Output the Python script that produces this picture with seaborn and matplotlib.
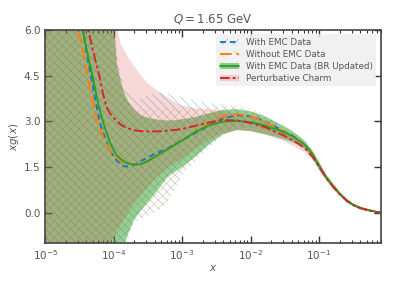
import numpy as np
import matplotlib
matplotlib.use("Agg")
import matplotlib.pyplot as plt
import seaborn as sns
from matplotlib.patches import Patch
from matplotlib.lines import Line2D

# log10(x) grid shared by all curves
log_x = [-5.0, -4.7, -4.55, -4.5, -4.45, -4.4, -4.35, -4.3, -4.25, -4.2, -4.15,
         -4.1, -4.05, -4.0, -3.95, -3.9, -3.85, -3.8, -3.7, -3.6, -3.5, -3.4,
         -3.3, -3.2, -3.1, -3.0, -2.8, -2.6, -2.4, -2.2, -2.0, -1.8,
         -1.6, -1.5, -1.4, -1.3, -1.2, -1.1, -1.0, -0.9, -0.8, -0.7, -0.6, -0.5, -0.4, -0.3, -0.2, -0.1]

# central values
emc_mid = [17, 10, 7.5, 6.7, 6.05, 5.3, 4.7, 4.1, 3.5, 2.95, 2.6,
           2.3, 2.05, 1.85, 1.7, 1.6, 1.53, 1.52, 1.57, 1.7, 1.82, 1.93,
           2.03, 2.13, 2.26, 2.39, 2.62, 2.88, 3.1, 3.2, 3.17, 3.02,
           2.78, 2.66, 2.54, 2.4, 2.22, 1.95, 1.55, 1.18, 0.89, 0.63, 0.41, 0.26, 0.16, 0.1, 0.05, 0.0]
noemc_mid = [15, 8.5, 6.3, 5.8, 5.3, 4.7, 4.1, 3.6, 3.05, 2.75, 2.48,
             2.25, 2.05, 1.9, 1.8, 1.72, 1.66, 1.62, 1.58, 1.61, 1.69, 1.83,
             1.96, 2.1, 2.24, 2.38, 2.67, 2.95, 3.18, 3.24, 3.18, 3.0,
             2.76, 2.65, 2.54, 2.4, 2.22, 1.95, 1.55, 1.18, 0.89, 0.63, 0.41, 0.26, 0.16, 0.1, 0.05, 0.0]
br_mid = [16, 9.5, 7.2, 6.6, 6.0, 5.4, 4.9, 4.4, 3.85, 3.35, 2.95,
          2.6, 2.3, 2.05, 1.88, 1.77, 1.69, 1.63, 1.58, 1.6, 1.7, 1.83,
          1.97, 2.1, 2.24, 2.38, 2.66, 2.88, 2.99, 3.02, 2.97, 2.87,
          2.72, 2.63, 2.53, 2.38, 2.22, 1.94, 1.55, 1.18, 0.89, 0.63, 0.41, 0.26, 0.16, 0.1, 0.05, 0.0]
pc_mid = [18, 11, 8.3, 7.6, 6.9, 6.35, 5.8, 5.3, 4.85, 4.4, 3.85,
          3.45, 3.25, 3.12, 3.01, 2.9, 2.83, 2.78, 2.71, 2.68, 2.67, 2.67,
          2.68, 2.7, 2.72, 2.75, 2.86, 2.97, 3.04, 3.03, 2.95, 2.82,
          2.62, 2.52, 2.4, 2.27, 2.1, 1.85, 1.52, 1.16, 0.88, 0.62, 0.41, 0.26, 0.16, 0.1, 0.05, 0.0]

# uncertainty band edges
emc_hi = [12, 12, 12, 12, 12, 12, 12, 12, 12, 12, 12,
          12, 12, 6.4, 5.3, 4.6, 4.2, 3.95, 3.72, 3.75, 3.86, 3.94,
          3.95, 3.92, 3.86, 3.8, 3.68, 3.6, 3.55, 3.47, 3.35, 3.16,
          2.9, 2.76, 2.62, 2.46, 2.26, 2.0, 1.62, 1.24, 0.93, 0.67, 0.44, 0.29, 0.18, 0.11, 0.06, 0.01]
emc_lo = [-5, -5, -5, -5, -5, -5, -5, -5, -5, -5, -5,
          -5, -5, -5, -5, -5, -1.4, -0.95, -0.32, -0.2, -0.1, 0.0,
          0.15, 0.4, 0.8, 1.25, 1.7, 2.15, 2.55, 2.75, 2.8, 2.72,
          2.55, 2.48, 2.4, 2.3, 2.14, 1.88, 1.48, 1.12, 0.83, 0.59, 0.37, 0.23, 0.13, 0.08, 0.03, -0.01]
noemc_hi = [12, 12, 12, 12, 12, 12, 12, 12, 12, 12, 12,
            12, 12, 6.2, 5.1, 4.4, 3.95, 3.65, 3.4, 3.35, 3.38, 3.42,
            3.43, 3.42, 3.39, 3.37, 3.38, 3.44, 3.52, 3.52, 3.42, 3.22,
            2.94, 2.78, 2.64, 2.47, 2.27, 2.0, 1.63, 1.24, 0.93, 0.67, 0.44, 0.29, 0.18, 0.11, 0.06, 0.01]
noemc_lo = [-5, -5, -5, -5, -5, -5, -5, -5, -5, -5, -5,
            -5, -5, -5, -5, -5, -1.2, -0.75, -0.25, -0.15, -0.05, 0.05,
            0.2, 0.45, 0.85, 1.3, 1.75, 2.2, 2.62, 2.82, 2.85, 2.75,
            2.57, 2.49, 2.41, 2.3, 2.15, 1.88, 1.49, 1.12, 0.83, 0.59, 0.37, 0.23, 0.13, 0.08, 0.03, -0.01]
br_hi = [12, 12, 12, 12, 12, 12, 12, 12, 12, 12, 12,
         12, 12, 6.3, 4.85, 4.35, 3.95, 3.7, 3.38, 3.2, 3.12, 3.07,
         3.04, 3.03, 3.04, 3.07, 3.15, 3.27, 3.38, 3.4, 3.33, 3.18,
         2.95, 2.83, 2.7, 2.54, 2.35, 2.06, 1.68, 1.27, 0.98, 0.7, 0.48, 0.31, 0.21, 0.13, 0.08, 0.03]
br_lo = [-5, -5, -5, -5, -5, -5, -5, -5, -5, -5, -5,
         -5, -5, -5, -5, -5, -1.1, -0.75, -0.22, 0.08, 0.36, 0.62,
         0.92, 1.2, 1.35, 1.5, 1.85, 2.25, 2.58, 2.72, 2.68, 2.58,
         2.47, 2.4, 2.33, 2.22, 2.08, 1.83, 1.42, 1.1, 0.8, 0.57, 0.35, 0.22, 0.12, 0.07, 0.03, -0.01]
pc_hi = [12, 12, 12, 12, 12, 12, 12, 12, 12, 12, 12,
         12, 12, 12, 6.1, 5.55, 5.35, 5.15, 4.8, 4.5, 4.25, 4.07,
         3.92, 3.77, 3.62, 3.52, 3.43, 3.4, 3.34, 3.26, 3.15, 3.0,
         2.78, 2.66, 2.52, 2.36, 2.17, 1.92, 1.6, 1.23, 0.93, 0.67, 0.44, 0.29, 0.18, 0.11, 0.06, 0.01]
pc_lo = [-5, -5, -5, -5, -5, -5, -5, -5, -5, -5, -5,
         -5, -1.0, -0.8, -0.6, -0.42, -0.22, -0.03, 0.3, 0.58, 0.85, 1.1,
         1.3, 1.48, 1.63, 1.78, 2.1, 2.4, 2.6, 2.7, 2.68, 2.58,
         2.42, 2.33, 2.22, 2.1, 1.95, 1.75, 1.42, 1.1, 0.8, 0.58, 0.36, 0.23, 0.13, 0.08, 0.03, -0.01]

labels = ['With EMC Data', 'Without EMC Data', 'With EMC Data (BR Updated)', 'Perturbative Charm']
blue, orange, green, red = sns.color_palette('tab10')[:4]

sns.set_theme(style='ticks')
plt.rcParams['font.family'] = ['DejaVu Sans']
plt.rcParams['hatch.linewidth'] = 0.45
text_grey = '#555555'

x = np.power(10.0, log_x)

fig = plt.figure(figsize=(3.93, 2.82), dpi=100)
ax = fig.add_axes([0.115, 0.137, 0.854, 0.757])

# hatched bands
ax.fill_between(x, emc_lo, emc_hi, facecolor='none', edgecolor=blue, hatch='\\\\\\\\',
                linewidth=0, alpha=0.45)
ax.fill_between(x, noemc_lo, noemc_hi, facecolor='none', edgecolor=orange, hatch='////',
                linewidth=0, alpha=0.45)
# filled bands
ax.fill_between(x, br_lo, br_hi, color=green, alpha=0.5, linewidth=0)
ax.fill_between(x, pc_lo, pc_hi, color=red, alpha=0.18, linewidth=0)

sns.lineplot(x=x, y=emc_mid, ax=ax, color=blue, linestyle=(0, (3, 2)), linewidth=1.4, sort=False)
sns.lineplot(x=x, y=noemc_mid, ax=ax, color=orange, linestyle=(0, (6, 2.5)), linewidth=1.4, sort=False)
sns.lineplot(x=x, y=br_mid, ax=ax, color=green, linestyle='-', linewidth=1.4, sort=False)
sns.lineplot(x=x, y=pc_mid, ax=ax, color=red, linestyle=(0, (5, 1.5, 1.5, 1.5)), linewidth=1.4, sort=False)

ax.set_xscale('log')
ax.set_xlim(1e-5, 0.8)
ax.set_ylim(-1, 6)
ax.set_yticks([0.0, 1.5, 3.0, 4.5, 6.0])
ax.set_yticklabels(['0.0', '1.5', '3.0', '4.5', '6.0'])

ax.tick_params(which='both', direction='in', top=True, right=True, colors='#333333',
               labelcolor=text_grey, labelsize=7.5)
ax.tick_params(which='major', length=5, width=1)
ax.tick_params(which='minor', length=2.5, width=0.8)
ax.tick_params(axis='y', which='minor', left=False, right=False)
for sp in ax.spines.values():
    sp.set_color('#444444')
    sp.set_linewidth(1.2)

ax.set_title('$Q = 1.65$ GeV', fontsize=8.5, color=text_grey, pad=5)
ax.set_xlabel('$x$', fontsize=7.5, color=text_grey, labelpad=1)
ax.set_ylabel('$xg(x)$', fontsize=7.5, color=text_grey, labelpad=2)

handles = [
    (Patch(facecolor='none', edgecolor=blue, hatch='///', linewidth=0, alpha=0.5),
     Line2D([], [], color=blue, linestyle=(0, (3, 2)), linewidth=1.4)),
    (Patch(facecolor='none', edgecolor=orange, hatch='\\\\', linewidth=0, alpha=0.5),
     Line2D([], [], color=orange, linestyle=(0, (6, 2.5)), linewidth=1.4)),
    (Patch(facecolor=green, alpha=0.5, linewidth=0),
     Line2D([], [], color=green, linewidth=1.4)),
    (Patch(facecolor=red, alpha=0.18, linewidth=0),
     Line2D([], [], color=red, linestyle=(0, (5, 1.5, 1.5, 1.5)), linewidth=1.4)),
]
leg = ax.legend(handles, labels, loc='upper right', fontsize=6.3, frameon=True,
                facecolor='#eeeeee', edgecolor='none', framealpha=0.8,
                handlelength=2.2, borderpad=0.4, labelspacing=0.35)
for t in leg.get_texts():
    t.set_color(text_grey)

fig.savefig('out.png', dpi=100)
